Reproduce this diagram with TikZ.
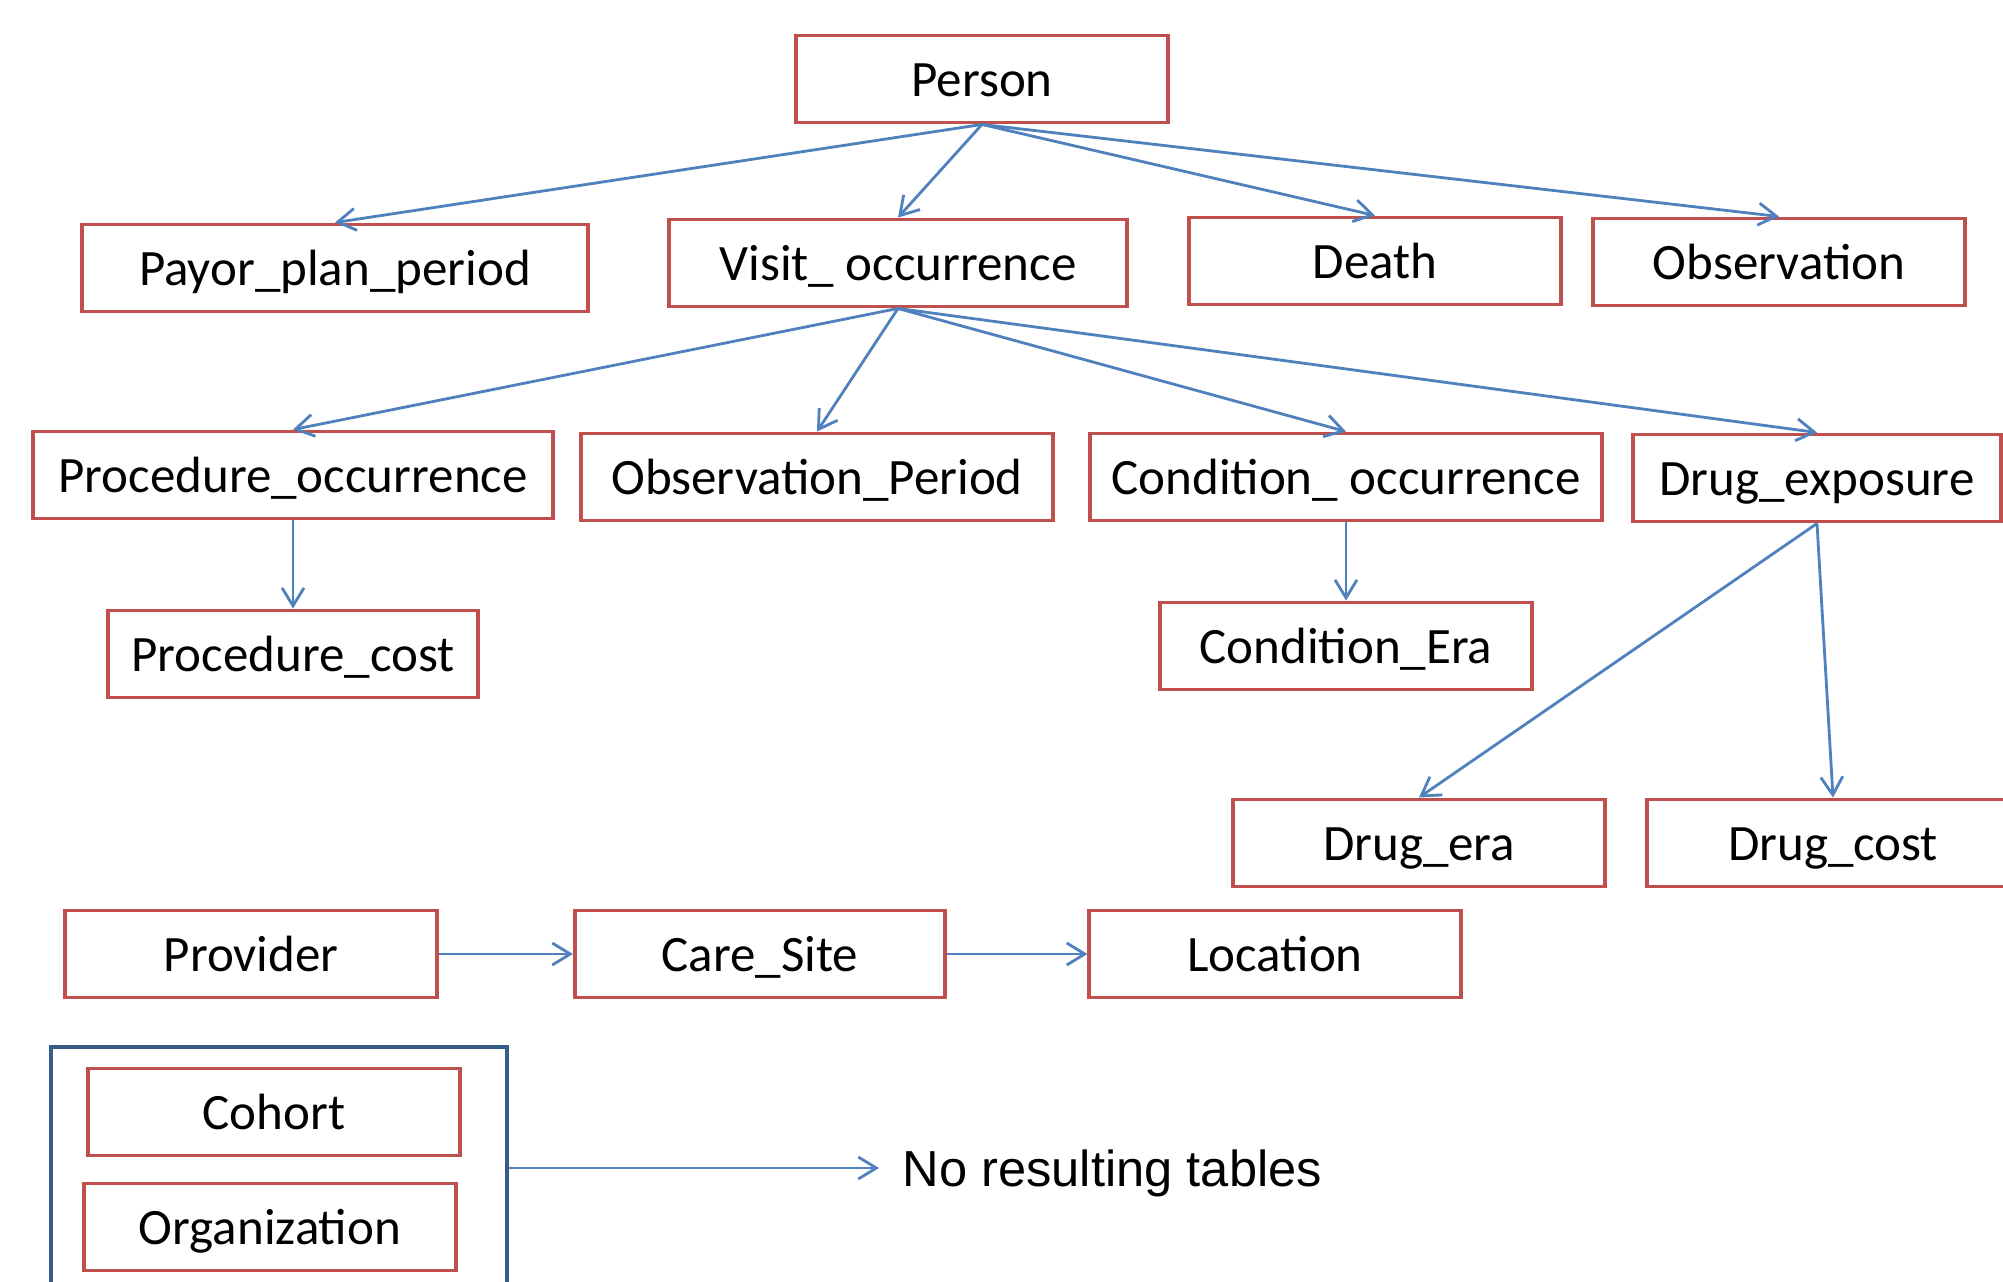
\documentclass[tikz,border=0pt]{standalone}
\usepackage{fontspec}
\setmainfont{Carlito}
\newfontfamily\arialfont{Liberation Sans}
\usetikzlibrary{arrows.meta, positioning}
\definecolor{boxred}{HTML}{C0504D}
\definecolor{linkblue}{HTML}{4F81BD}
\definecolor{frameblue}{HTML}{385D8A}

\begin{document}
\begin{tikzpicture}[x=0.01cm, y=-0.01cm,
    tbl/.style={draw=boxred, line width=1.1pt, minimum height=0.87cm, minimum width=3.71cm,
                inner sep=0pt, text height=0.45cm, text depth=0.1cm,
                font=\fontsize{14.5}{17}\selectfont},
    link/.style={draw=linkblue, line width=0.8pt, -{Straight Barb[length=1.8mm, width=2.2mm]}}]
    \useasboundingbox (0,0) rectangle (2003,1282);
    % tables
    \node[tbl] (person) at (982,79) {Person};
    \node[tbl, minimum width=5.06cm] (payor) at (335,268) {Payor\_plan\_period};
    \node[tbl, minimum width=4.57cm] (visit) at (898,263) {Visit\_ occurrence};
    \node[tbl] (death) at (1375,261) {Death};
    \node[tbl] (obs) at (1779,262) {Observation};
    \node[tbl, minimum width=5.19cm] (prococc) at (293,475) {Procedure\_occurrence};
    \node[tbl, minimum width=4.72cm] (obsper) at (817,477) {Observation\_Period};
    \node[tbl, minimum width=5.12cm] (condocc) at (1346,477) {Condition\_ occurrence};
    \node[tbl, minimum width=3.68cm] (drugexp) at (1817,478) {Drug\_exposure};
    \node[tbl, minimum width=3.70cm] (proccost) at (293,654) {Procedure\_cost};
    \node[tbl] (condera) at (1346,646) {Condition\_Era};
    \node[tbl] (drugera) at (1419,843) {Drug\_era};
    \node[tbl] (drugcost) at (1833,843) {Drug\_cost};
    \node[tbl] (provider) at (251,954) {Provider};
    \node[tbl, minimum width=3.70cm] (caresite) at (760,954) {Care\_Site};
    \node[tbl] (location) at (1275,954) {Location};
    % tables with no result
    \node[draw=frameblue, line width=1.3pt, minimum width=4.56cm, minimum height=2.42cm] (group) at (279,1168) {};
    \node[tbl] (cohort) at (274,1112) {Cohort};
    \node[tbl, minimum width=3.72cm] (org) at (270,1227) {Organization};
    \node[anchor=west, inner xsep=0.23cm, inner ysep=0pt, text height=0.5cm, text depth=0.13cm,
          font=\arialfont\fontsize{14.4}{17}\selectfont] (nores) at (879,1168) {No resulting tables};
    % links
    \foreach \t in {payor, visit, death, obs}
        \draw[link] (person.south) -- (\t.north);
    \foreach \t in {prococc, obsper, condocc, drugexp}
        \draw[link] (visit.south) -- (\t.north);
    \draw[link] (prococc) -- (proccost);
    \draw[link] (condocc.south) -- (condera.north);
    \draw[link] (drugexp.south) -- (drugera.north);
    \draw[link] (drugexp.south) -- (drugcost.north);
    \draw[link] (provider) -- (caresite);
    \draw[link] (caresite) -- (location);
    \draw[link] (group.east) -- (nores.west);
\end{tikzpicture}
\end{document}
